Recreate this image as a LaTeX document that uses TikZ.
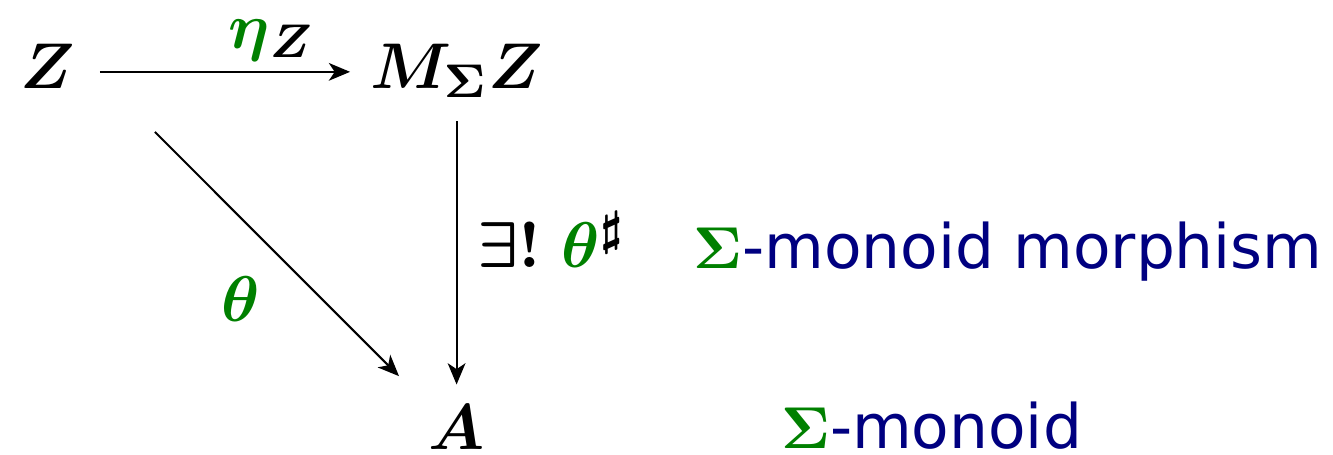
\documentclass[tikz,border=0pt]{standalone}
\usepackage[no-math]{fontspec}
\newfontfamily\notefont{DejaVu Sans}
\usepackage{tikz}
\usetikzlibrary{arrows.meta}
\usepackage{xcolor}
\definecolor{mapgreen}{HTML}{008000}
\definecolor{notenavy}{HTML}{000080}

\begin{document}
\begin{tikzpicture}[
    every node/.style={font=\fontsize{11}{13}\selectfont\boldmath},
    objNode/.style={inner xsep=4pt, inner ysep=3.4pt, text height=7.5pt, text depth=2pt},
    mapArrow/.style={-{Stealth[length=3.6pt, width=3pt, inset=1pt]}, line width=0.35pt},
    mapLabel/.style={text=mapgreen},
    noteText/.style={font=\fontsize{10.4}{12.5}\selectfont\notefont, text=notenavy, inner sep=0pt, anchor=base west}
]
    \useasboundingbox (0, 0) rectangle (7.941, -2.710);

    \node[objNode] (zset) at (0.286, -0.428) {$Z$};
    \node[objNode] (free) at (2.72, -0.428) {$M_\Sigma Z$};
    \node[objNode] (target) at (2.72, -2.584) {$A$};
    \coordinate (zfoot) at (0.923, -0.786);

    \draw[mapArrow, shorten >=-0.8pt] (zset) -- node[above, yshift=-1.6pt, pos=0.70] {$\textcolor{mapgreen}{\eta}_Z$} (free);
    \draw[mapArrow] (free) -- node[right, pos=0.45] {$\exists!\;\textcolor{mapgreen}{\theta}^\sharp$} (target);
    \draw[mapArrow, shorten >=2pt] (zfoot) -- node[mapLabel, pos=0.66, left=7pt] {$\theta$} (target);

    \node[noteText] (morphNote) at (4.122, -1.597) {{\boldmath\color{mapgreen}$\Sigma$}-monoid morphism};
    \node[noteText] (monoidNote) at (4.646, -2.669) {{\boldmath\color{mapgreen}$\Sigma$}-monoid};
\end{tikzpicture}
\end{document}
